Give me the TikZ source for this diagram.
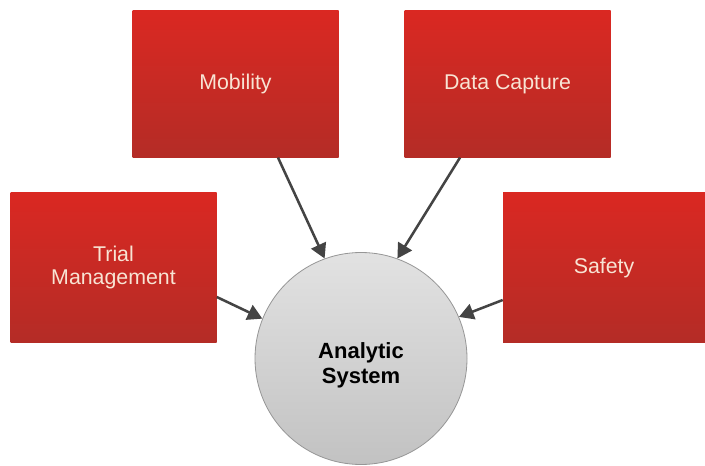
\documentclass[tikz,border=0pt]{standalone}
\usepackage{fontspec}
\setmainfont{Liberation Sans}
\usetikzlibrary{arrows.meta,calc}

\definecolor{boxred}{RGB}{218,40,34}
\definecolor{boxreddark}{RGB}{180,44,38}
\definecolor{boxtext}{RGB}{248,228,212}
\definecolor{hubtop}{RGB}{226,226,226}
\definecolor{hubbottom}{RGB}{194,194,194}
\definecolor{hubline}{RGB}{150,150,150}
\definecolor{arrowgray}{RGB}{68,68,68}

\begin{document}
\begin{tikzpicture}[x=0.75pt,y=0.75pt,yscale=-1,xscale=1,
    redbox/.style={rectangle, inner sep=0pt, minimum width=154.5pt, minimum height=110pt,
        top color=boxred, middle color=boxred, bottom color=boxreddark,
        text=boxtext, align=center, font=\fontsize{16}{17.5}\selectfont},
    hub/.style={circle, inner sep=0pt, minimum size=159pt,
        top color=hubtop, bottom color=hubbottom, draw=hubline, line width=0.6pt,
        align=center, text height=41.5pt, font=\bfseries\fontsize{16.5}{19}\selectfont},
    feed/.style={draw=arrowgray, line width=1.9pt, -{Triangle[length=11pt,width=12pt]}}]
        %set diagram to 705 x 466
        \useasboundingbox (0,0) rectangle (705,466);

        % Top boxes
        \node [redbox] (mobility) at (235.5,84) {Mobility};
        \node [redbox] (datacapture) at (507.5,84) {Data Capture};
        % Side boxes
        \node [redbox, minimum height=111.75pt] (trial) at (113.5,267.5) {Trial\\Management};
        \node [redbox, minimum width=151.5pt, minimum height=111.75pt] (safety) at (604,267.5) {Safety};

        % Circle
        \node [hub] (analytic) at (361,358.5) {Analytic\\System};

        % Arrows
        \draw [feed] ($(mobility.south)+(42.5,0)$) -- (analytic.110.7);
        \draw [feed] ($(datacapture.south)+(-47.5,0)$) -- (analytic.70.3);
        \draw [feed] ($(trial.east)+(0,29.5)$) -- (analytic.158.5);
        \draw [feed] ($(safety.west)+(0,32.5)$) -- (analytic.23);

\end{tikzpicture}
\end{document}
